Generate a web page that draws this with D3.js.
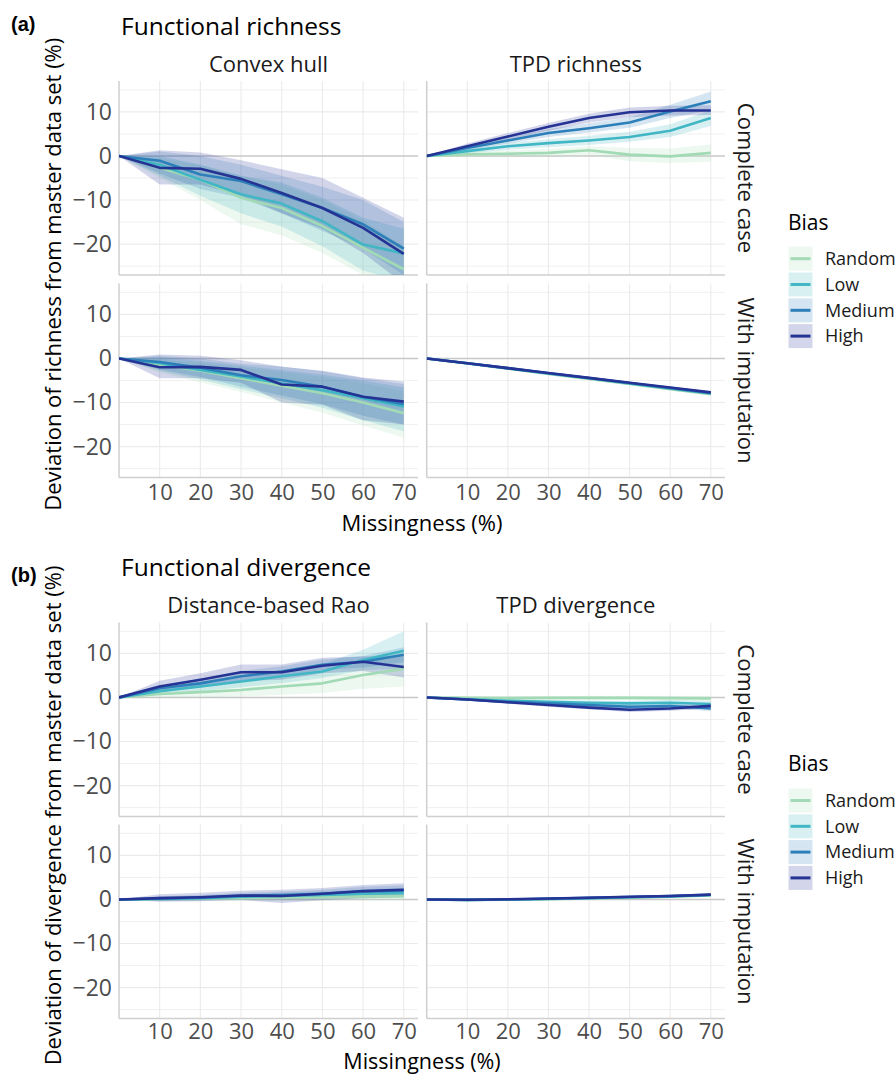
<!DOCTYPE html>
<html>
<head>
<meta charset="utf-8">
<script src="https://cdn.jsdelivr.net/npm/d3@7"></script>
<style>
  body { margin: 0; background: #fff; }
  text { font-family: "Open Sans", "Noto Sans", sans-serif; }
</style>
</head>
<body>
<div id="chart"></div>
<script>
// ---- data ----
var missingness = [0, 10, 20, 30, 40, 50, 60, 70];
var biasLevels = ["Random", "Low", "Medium", "High"];
var biasColors = ["#a1dab4", "#41b6c4", "#2c7fb8", "#253494"];
var xTicks = [10, 20, 30, 40, 50, 60, 70];
var yTicks = [-20, -10, 0, 10];
var yMinor = [-25, -15, -5, 5, 15];

// each block: rows = Random, Low, Medium, High
// Convex hull, complete case
var hullCCMean = [
  [0, -2.7, -5.4, -9.5, -11.8, -15.9, -20.8, -25.7],
  [0, -2.0, -5.4, -8.7, -10.8, -14.8, -20.1, -22.1],
  [0, -1.1, -4.2, -5.7, -8.7, -11.8, -15.5, -21.0],
  [0, -2.7, -2.9, -5.2, -8.4, -11.8, -16.3, -22.2]
];
var hullCCLow = [
  [0, -5.0, -10.0, -15.5, -18.0, -22.0, -27.0, -31.0],
  [0, -4.5, -9.0, -13.0, -16.0, -20.5, -26.0, -28.5],
  [0, -4.0, -7.5, -9.5, -13.0, -17.0, -21.0, -27.0],
  [0, -6.5, -6.5, -9.0, -13.0, -16.5, -22.0, -29.0]
];
var hullCCHigh = [
  [0, -0.5, -2.0, -4.5, -6.5, -10.0, -14.5, -20.5],
  [0, 0.0, -2.0, -4.5, -6.0, -9.5, -14.0, -16.5],
  [0, 1.0, 0.0, -2.0, -4.5, -7.0, -10.0, -15.0],
  [0, 1.3, 0.8, -1.0, -3.0, -5.0, -9.5, -14.0]
];

// TPD richness, complete case
var tpdRichCCMean = [
  [0, 0.4, 0.5, 0.7, 1.3, 0.3, -0.1, 0.7],
  [0, 1.1, 2.2, 2.9, 3.5, 4.3, 5.7, 8.6],
  [0, 1.8, 3.5, 5.2, 6.3, 7.6, 10.1, 12.4],
  [0, 2.2, 4.4, 6.6, 8.6, 9.9, 10.3, 10.3]
];
var tpdRichCCLow = [
  [0, -0.3, -0.3, -0.3, 0.3, -1.2, -1.6, -1.3],
  [0, 0.6, 1.4, 2.0, 2.5, 3.2, 4.3, 6.8],
  [0, 1.3, 2.8, 4.3, 5.3, 6.4, 8.6, 10.4],
  [0, 1.7, 3.6, 5.7, 7.6, 8.8, 9.2, 9.3]
];
var tpdRichCCHigh = [
  [0, 1.0, 1.3, 1.6, 2.2, 1.8, 1.7, 2.6],
  [0, 1.6, 3.0, 3.8, 4.6, 5.5, 7.2, 10.4],
  [0, 2.3, 4.2, 6.1, 7.4, 8.8, 11.6, 14.6],
  [0, 2.8, 5.2, 7.5, 9.6, 11.0, 11.4, 11.5]
];

// Convex hull, with imputation
var hullImpMean = [
  [0, -1.4, -2.8, -4.5, -6.2, -7.9, -10.0, -12.4],
  [0, -1.1, -2.6, -4.1, -5.7, -7.2, -9.0, -10.9],
  [0, -0.8, -2.1, -3.8, -4.9, -6.4, -8.7, -10.4],
  [0, -2.0, -1.9, -2.6, -5.9, -6.4, -8.7, -9.8]
];
var hullImpLow = [
  [0, -3.2, -5.4, -7.6, -10.0, -12.3, -15.2, -18.0],
  [0, -2.8, -4.8, -7.0, -9.0, -11.2, -14.0, -16.5],
  [0, -2.5, -4.2, -6.4, -8.4, -10.4, -13.0, -15.0],
  [0, -4.5, -4.5, -5.5, -10.0, -10.5, -14.0, -15.0]
];
var hullImpHigh = [
  [0, -0.2, -1.0, -2.0, -3.0, -4.2, -5.6, -7.4],
  [0, 0.3, -0.6, -1.6, -2.6, -3.7, -5.0, -6.6],
  [0, 0.6, 0.0, -1.2, -1.8, -2.9, -4.5, -5.8],
  [0, 0.9, 0.6, -0.4, -1.9, -2.8, -4.3, -5.2]
];

// TPD richness, with imputation
var tpdRichImpMean = [
  [0, -1.15, -2.3, -3.5, -4.65, -5.8, -6.95, -8.1],
  [0, -1.1, -2.25, -3.4, -4.5, -5.65, -6.8, -7.95],
  [0, -1.1, -2.2, -3.35, -4.45, -5.55, -6.7, -7.8],
  [0, -1.1, -2.2, -3.3, -4.4, -5.5, -6.6, -7.7]
];
var tpdRichImpLow = [
  [0, -1.3, -2.5, -3.7, -4.85, -6.0, -7.2, -8.4],
  [0, -1.25, -2.4, -3.6, -4.7, -5.85, -7.0, -8.2],
  [0, -1.2, -2.35, -3.5, -4.6, -5.7, -6.9, -8.0],
  [0, -1.2, -2.35, -3.45, -4.55, -5.65, -6.8, -7.9]
];
var tpdRichImpHigh = [
  [0, -1.0, -2.1, -3.3, -4.45, -5.6, -6.7, -7.8],
  [0, -0.95, -2.1, -3.2, -4.3, -5.45, -6.6, -7.7],
  [0, -1.0, -2.05, -3.2, -4.3, -5.4, -6.5, -7.6],
  [0, -1.0, -2.05, -3.15, -4.25, -5.35, -6.4, -7.5]
];

// Distance-based Rao, complete case
var raoCCMean = [
  [0, 0.8, 1.2, 1.7, 2.5, 3.2, 5.1, 6.5],
  [0, 1.4, 2.5, 3.6, 4.8, 5.9, 8.5, 10.6],
  [0, 2.1, 3.2, 4.8, 5.9, 7.4, 8.1, 9.7],
  [0, 2.5, 4.0, 5.7, 5.7, 7.2, 8.1, 6.9]
];
var raoCCLow = [
  [0, 0.0, 0.0, 0.2, 0.6, 1.0, 2.0, 2.5],
  [0, 0.6, 1.4, 2.3, 3.3, 4.4, 6.2, 6.5],
  [0, 1.3, 2.2, 3.6, 4.7, 6.2, 6.8, 8.0],
  [0, 1.2, 2.5, 3.8, 4.0, 5.5, 6.0, 4.5]
];
var raoCCHigh = [
  [0, 1.6, 2.6, 3.4, 4.5, 5.6, 8.0, 10.5],
  [0, 2.2, 3.6, 4.9, 6.3, 7.6, 10.8, 15.0],
  [0, 2.9, 4.2, 6.0, 7.1, 8.6, 9.4, 11.4],
  [0, 3.8, 5.5, 7.5, 7.5, 9.0, 9.3, 9.5]
];

// TPD divergence, complete case
var tpdDivCCMean = [
  [0, -0.1, -0.15, -0.1, -0.1, -0.1, -0.15, -0.2],
  [0, -0.4, -0.75, -1.0, -1.2, -1.35, -1.2, -1.5],
  [0, -0.45, -1.0, -1.35, -1.7, -2.1, -1.95, -2.5],
  [0, -0.45, -1.1, -1.7, -2.3, -2.8, -2.5, -1.9]
];
var tpdDivCCLow = [
  [0, -0.4, -0.5, -0.5, -0.6, -0.6, -0.7, -0.8],
  [0, -0.7, -1.1, -1.4, -1.7, -1.9, -1.8, -2.2],
  [0, -0.7, -1.3, -1.7, -2.1, -2.6, -2.5, -3.1],
  [0, -0.7, -1.4, -2.1, -2.7, -3.3, -3.0, -2.5]
];
var tpdDivCCHigh = [
  [0, 0.2, 0.2, 0.3, 0.4, 0.4, 0.4, 0.4],
  [0, -0.1, -0.4, -0.6, -0.7, -0.8, -0.6, -0.8],
  [0, -0.2, -0.7, -1.0, -1.3, -1.6, -1.4, -1.9],
  [0, -0.2, -0.8, -1.3, -1.9, -2.3, -2.0, -1.3]
];

// Distance-based Rao, with imputation
var raoImpMean = [
  [0, 0.1, 0.2, 0.3, 0.4, 0.5, 0.7, 0.8],
  [0, 0.1, 0.3, 0.6, 0.8, 1.0, 1.3, 1.5],
  [0, 0.2, 0.4, 0.8, 1.0, 1.3, 1.8, 2.0],
  [0, 0.3, 0.5, 0.9, 0.8, 1.3, 1.9, 2.2]
];
var raoImpLow = [
  [0, -0.3, -0.3, -0.3, -0.3, -0.3, -0.2, -0.2],
  [0, -0.3, -0.2, 0.0, 0.1, 0.2, 0.3, 0.4],
  [0, -0.3, -0.2, 0.1, 0.2, 0.4, 0.7, 0.8],
  [0, -0.5, -0.4, -0.1, -0.8, -0.2, 0.3, 0.5]
];
var raoImpHigh = [
  [0, 0.5, 0.7, 0.9, 1.1, 1.3, 1.6, 1.8],
  [0, 0.6, 0.8, 1.2, 1.5, 1.8, 2.3, 2.6],
  [0, 0.7, 1.0, 1.5, 1.8, 2.2, 2.9, 3.2],
  [0, 1.2, 1.5, 2.0, 2.2, 2.6, 3.3, 3.7]
];

// TPD divergence, with imputation
var tpdDivImpMean = [
  [0, -0.1, -0.05, 0.05, 0.2, 0.4, 0.6, 0.9],
  [0, -0.1, 0.0, 0.1, 0.3, 0.5, 0.7, 1.0],
  [0, -0.1, 0.0, 0.15, 0.35, 0.55, 0.75, 1.05],
  [0, -0.05, 0.05, 0.2, 0.4, 0.6, 0.8, 1.1]
];
var tpdDivImpLow = [
  [0, -0.25, -0.2, -0.1, 0.05, 0.25, 0.45, 0.7],
  [0, -0.25, -0.15, -0.05, 0.15, 0.35, 0.55, 0.8],
  [0, -0.25, -0.15, 0.0, 0.2, 0.4, 0.6, 0.85],
  [0, -0.2, -0.1, 0.05, 0.25, 0.45, 0.65, 0.9]
];
var tpdDivImpHigh = [
  [0, 0.05, 0.1, 0.2, 0.35, 0.55, 0.75, 1.1],
  [0, 0.05, 0.15, 0.25, 0.45, 0.65, 0.85, 1.2],
  [0, 0.05, 0.15, 0.3, 0.5, 0.7, 0.9, 1.25],
  [0, 0.1, 0.2, 0.35, 0.55, 0.75, 0.95, 1.3]
];

// ---- layout ----
var width = 896,
    height = 1075,
    panelH = 194,
    colX = [[119, 418], [426.7, 725]],
    lineWidth = 2.6;

var sections = [
  {
    tag: "(a)", title: "Functional richness", tagY: 31, titleY: 34.5, stripY: 71.7,
    rowTops: [81, 283.5],
    cols: ["Convex hull", "TPD richness"],
    yTitle: "Deviation of richness from master data set (%)",
    tickPad: 7, xTitleY: 531, xTitleSize: 22,
    legendTitleY: 230, legendTop: 246.7,
    panels: [
      [[hullCCMean, hullCCLow, hullCCHigh], [tpdRichCCMean, tpdRichCCLow, tpdRichCCHigh]],
      [[hullImpMean, hullImpLow, hullImpHigh], [tpdRichImpMean, tpdRichImpLow, tpdRichImpHigh]]
    ]
  },
  {
    tag: "(b)", title: "Functional divergence", tagY: 582, titleY: 576, stripY: 613,
    rowTops: [622.5, 824.5],
    cols: ["Distance-based Rao", "TPD divergence"],
    yTitle: "Deviation of divergence from master data set (%)",
    tickPad: 5, xTitleY: 1068.5, xTitleSize: 21.5,
    legendTitleY: 771, legendTop: 788.5,
    panels: [
      [[raoCCMean, raoCCLow, raoCCHigh], [tpdDivCCMean, tpdDivCCLow, tpdDivCCHigh]],
      [[raoImpMean, raoImpLow, raoImpHigh], [tpdDivImpMean, tpdDivImpLow, tpdDivImpHigh]]
    ]
  }
];
var rowLabels = ["Complete case", "With imputation"];

var svg = d3.select("#chart")
    .append("svg")
    .attr("width", width)
    .attr("height", height);

var defs = svg.append("defs");
var clipId = 0;

sections.forEach(function (sec) {
  svg.append("text")
      .attr("x", 11).attr("y", sec.tagY)
      .style("font-family", "'Liberation Sans', Arial, sans-serif")
      .style("font-weight", "bold").style("font-size", "20px")
      .attr("fill", "#000")
      .text(sec.tag);

  svg.append("text")
      .attr("x", 121).attr("y", sec.titleY)
      .style("font-size", "24.5px").attr("fill", "#000")
      .text(sec.title);

  sec.cols.forEach(function (name, c) {
    svg.append("text")
        .attr("x", (colX[c][0] + colX[c][1]) / 2).attr("y", sec.stripY)
        .attr("text-anchor", "middle")
        .style("font-size", "22px").attr("fill", "#1a1a1a")
        .text(name);
  });

  sec.rowTops.forEach(function (top, r) {
    var y = d3.scaleLinear().domain([-27, 17]).range([top + panelH, top]);

    sec.cols.forEach(function (name, c) {
      var x = d3.scaleLinear().domain([0, 73.5]).range(colX[c]);
      var g = svg.append("g");
      var left = colX[c][0], right = colX[c][1];

      // grid
      g.selectAll(".hminor").data(yMinor).enter().append("line")
          .attr("x1", left).attr("x2", right)
          .attr("y1", function (d) { return y(d); }).attr("y2", function (d) { return y(d); })
          .attr("stroke", "#f0f0f0").attr("stroke-width", 1);
      g.selectAll(".hmajor").data(yTicks.filter(function (d) { return d !== 0; })).enter().append("line")
          .attr("x1", left).attr("x2", right)
          .attr("y1", function (d) { return y(d); }).attr("y2", function (d) { return y(d); })
          .attr("stroke", "#ebebeb").attr("stroke-width", 1.1);
      g.selectAll(".vmajor").data(xTicks).enter().append("line")
          .attr("y1", top).attr("y2", top + panelH)
          .attr("x1", function (d) { return x(d); }).attr("x2", function (d) { return x(d); })
          .attr("stroke", "#ebebeb").attr("stroke-width", 1.1);

      // zero line
      g.append("line")
          .attr("x1", left).attr("x2", right)
          .attr("y1", y(0)).attr("y2", y(0))
          .attr("stroke", "#c8c8c8").attr("stroke-width", 1.4);

      // panel left and bottom lines
      g.append("line")
          .attr("x1", left).attr("x2", left)
          .attr("y1", top).attr("y2", top + panelH)
          .attr("stroke", "#cfcfcf").attr("stroke-width", 1.5);
      g.append("line")
          .attr("x1", left).attr("x2", right)
          .attr("y1", top + panelH).attr("y2", top + panelH)
          .attr("stroke", "#cfcfcf").attr("stroke-width", 1.5);

      // data
      var id = "clip" + (clipId++);
      defs.append("clipPath").attr("id", id)
          .append("rect")
          .attr("x", left).attr("y", top)
          .attr("width", right - left).attr("height", panelH);

      var block = sec.panels[r][c];
      var series = biasLevels.map(function (b, i) {
        return missingness.map(function (m, j) {
          return { x: m, mean: block[0][i][j], lo: block[1][i][j], hi: block[2][i][j] };
        });
      });

      var area = d3.area()
          .x(function (d) { return x(d.x); })
          .y0(function (d) { return y(d.lo); })
          .y1(function (d) { return y(d.hi); });
      var line = d3.line()
          .x(function (d) { return x(d.x); })
          .y(function (d) { return y(d.mean); });

      var dg = g.append("g").attr("clip-path", "url(#" + id + ")");
      dg.selectAll(".ribbon").data(series).enter().append("path")
          .attr("d", area)
          .attr("fill", function (d, i) { return biasColors[i]; })
          .attr("fill-opacity", 0.2);
      dg.selectAll(".mean").data(series).enter().append("path")
          .attr("d", line)
          .attr("fill", "none")
          .attr("stroke", function (d, i) { return biasColors[i]; })
          .attr("stroke-width", lineWidth)
          .attr("stroke-linejoin", "round");

      // axes
      if (c === 0) {
        var ya = g.append("g")
            .attr("transform", "translate(" + left + ",0)")
            .call(d3.axisLeft(y).tickValues(yTicks).tickSize(0).tickPadding(7));
        ya.select(".domain").remove();
        ya.selectAll("text").style("font-size", "23px").attr("fill", "#4d4d4d")
            .style("font-family", "'Open Sans', sans-serif");
      }
      if (r === 1) {
        var xa = g.append("g")
            .attr("transform", "translate(0," + (top + panelH) + ")")
            .call(d3.axisBottom(x).tickValues(xTicks).tickSize(0).tickPadding(sec.tickPad));
        xa.select(".domain").remove();
        xa.selectAll("text").style("font-size", "22px").attr("fill", "#4d4d4d")
            .style("font-family", "'Open Sans', sans-serif");
      }
    });

    // row strip on the right
    var cy = top + panelH / 2;
    svg.append("text")
        .attr("transform", "translate(738," + cy + ") rotate(90)")
        .attr("text-anchor", "middle")
        .style("font-size", "22px").attr("fill", "#1a1a1a")
        .text(rowLabels[r]);
  });

  // y title
  var yc = (sec.rowTops[0] + sec.rowTops[1] + panelH) / 2 - 5;
  svg.append("text")
      .attr("transform", "translate(61," + yc + ") rotate(-90)")
      .attr("text-anchor", "middle")
      .style("font-size", "22px").attr("fill", "#000")
      .text(sec.yTitle);

  // x title
  svg.append("text")
      .attr("x", (colX[0][0] + colX[1][1]) / 2).attr("y", sec.xTitleY)
      .attr("text-anchor", "middle")
      .style("font-size", sec.xTitleSize + "px").attr("fill", "#000")
      .text("Missingness (%)");

  // legend
  var lg = svg.append("g");
  lg.append("text")
      .attr("x", 788).attr("y", sec.legendTitleY)
      .style("font-size", "21px").attr("fill", "#000")
      .text("Bias");
  var item = lg.selectAll(".item").data(biasLevels).enter().append("g")
      .attr("transform", function (d, i) { return "translate(788.5," + (sec.legendTop + i * 25.8) + ")"; });
  item.append("rect")
      .attr("width", 24).attr("height", 24)
      .attr("fill", function (d, i) { return biasColors[i]; })
      .attr("fill-opacity", 0.2);
  item.append("line")
      .attr("x1", 2).attr("x2", 22).attr("y1", 12).attr("y2", 12)
      .attr("stroke", function (d, i) { return biasColors[i]; })
      .attr("stroke-width", 3);
  item.append("text")
      .attr("x", 36.5).attr("y", 12).attr("dy", "0.35em")
      .style("font-size", "18px").attr("fill", "#1a1a1a")
      .text(function (d) { return d; });
});
</script>
</body>
</html>
